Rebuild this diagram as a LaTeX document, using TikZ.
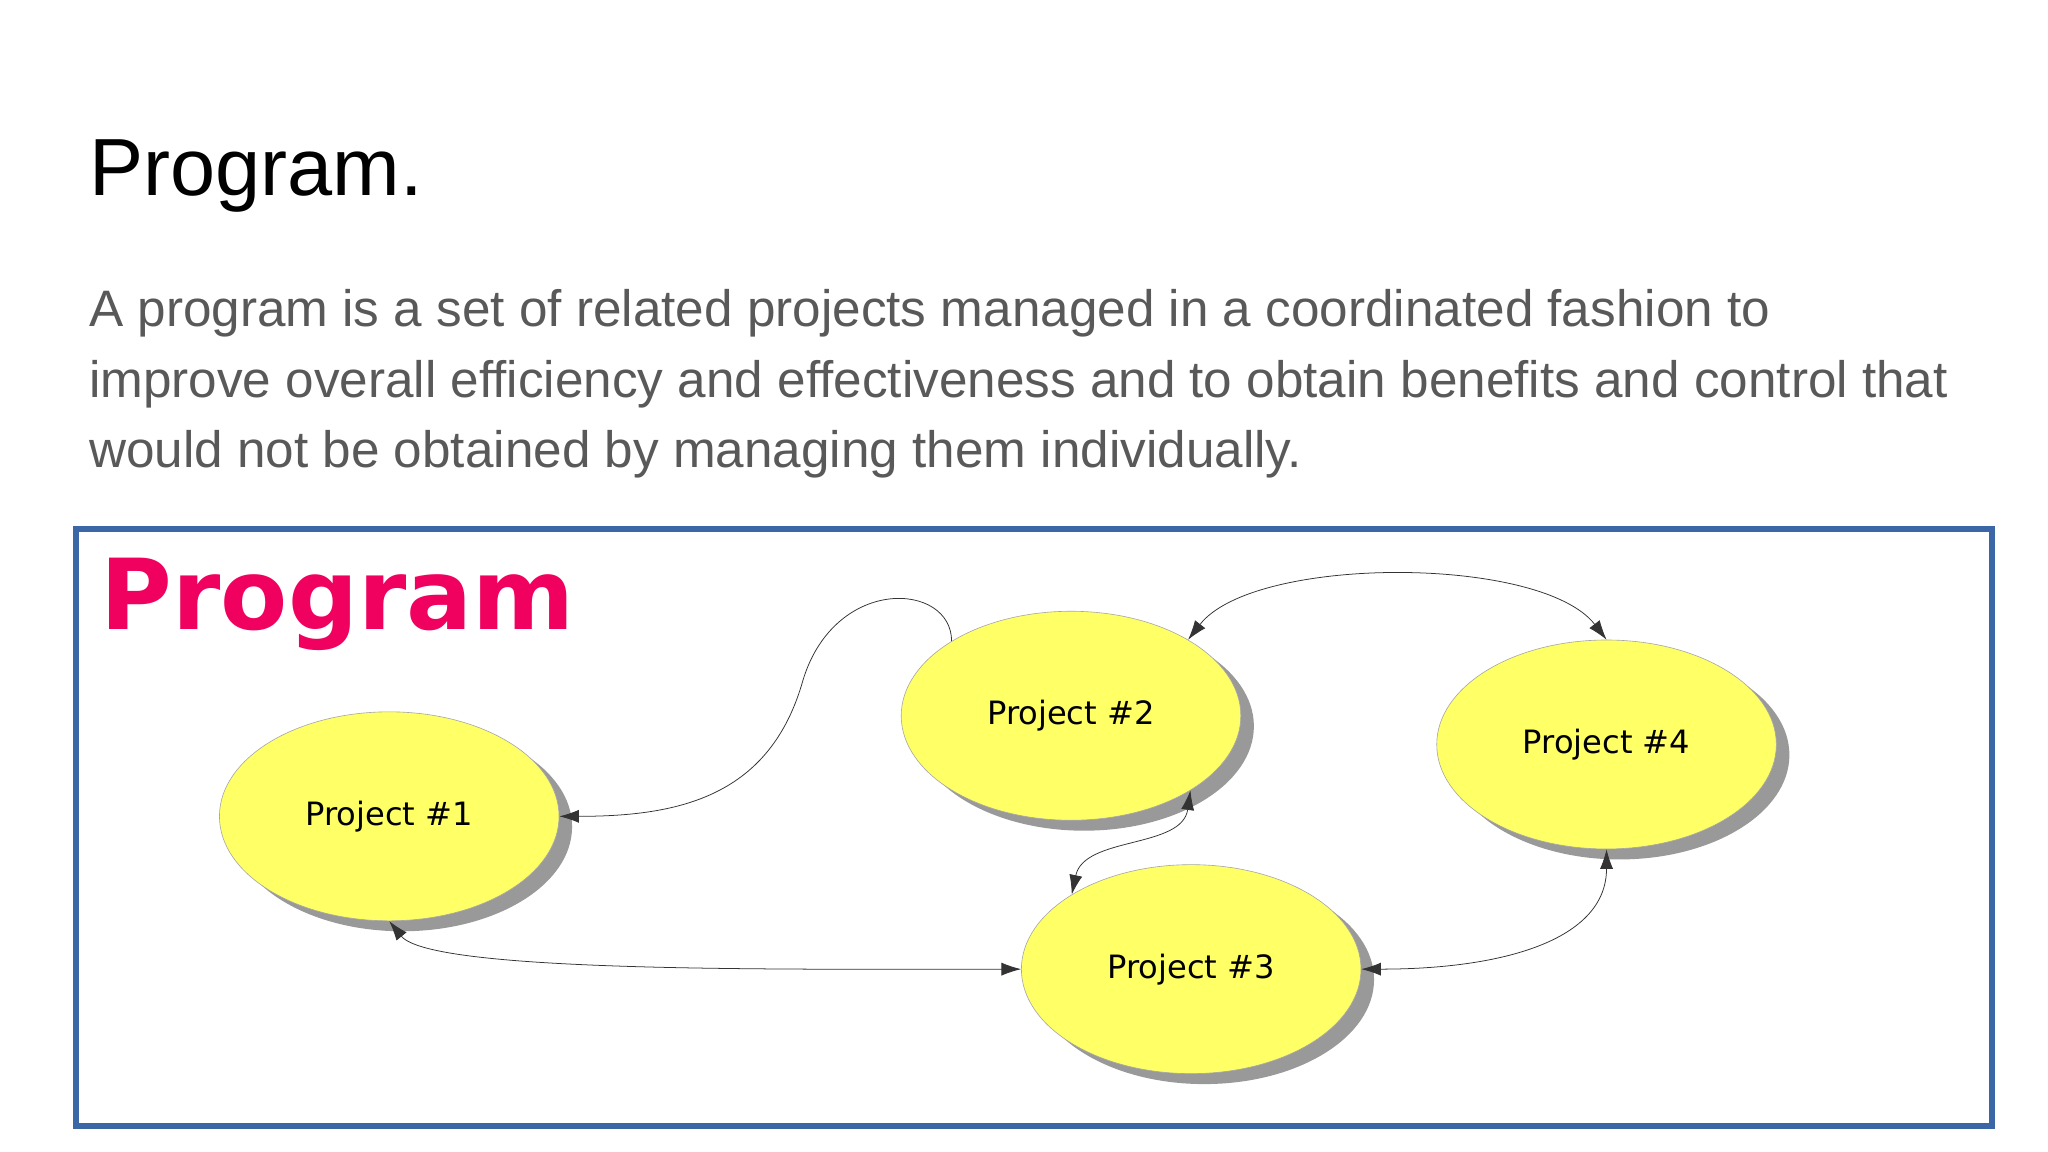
\documentclass[tikz,border=0pt]{standalone}
\usepackage{fontspec}
\setmainfont{Liberation Sans}
\newfontfamily\dvfont{DejaVu Sans}
\usetikzlibrary{shapes.geometric,shadows,arrows.meta}
\definecolor{bodygray}{HTML}{595959}
\definecolor{frameblue}{HTML}{3C67A6}
\definecolor{magen}{HTML}{F0005F}
\definecolor{projyellow}{HTML}{FFFF66}
\begin{document}
\begin{tikzpicture}[x=0.3mm,y=-0.3mm,
  proj/.style={ellipse,draw=gray!70,fill=projyellow,minimum width=78mm,minimum height=48mm,
    font=\dvfont\fontsize{21pt}{24pt}\selectfont,
    drop shadow={shadow xshift=3mm,shadow yshift=-2.4mm,opacity=1,fill=gray!80}},
  body/.style={anchor=base west,inner sep=0,text=bodygray,font=\fontsize{33.5pt}{40pt}\selectfont},
  tip/.style={Latex[length=4.5mm,width=3mm]},
  link/.style={draw=black!80,line width=0.5pt,{Latex[length=4.5mm,width=3mm]}-{Latex[length=4.5mm,width=3mm]}},
  link1/.style={draw=black!80,line width=0.5pt,-{Latex[length=4.5mm,width=3mm]}}]
\useasboundingbox (0,0) rectangle (1568,882);
\fill[white] (0,0) rectangle (1568,882);
\node[anchor=base west,inner sep=0,font=\fontsize{53pt}{60pt}\selectfont] (title) at (68,150) {Program.};
\node[body] (b1) at (68,250) {A program is a set of related projects managed in a coordinated fashion to};
\node[body] (b2) at (68,304) {improve overall efficiency and effectiveness and to obtain benefits and control that};
\node[body] (b3) at (68,358) {would not be obtained by managing them individually.};
\draw[frameblue,line width=1.3mm,fill=white] (58,405) rectangle (1525,862);
\node[anchor=base west,inner sep=0,text=magen,font=\dvfont\bfseries\fontsize{64pt}{70pt}\selectfont] (prog) at (77,482) {Program};
\node[proj] (p1) at (298,625) {Project \#1};
\node[proj] (p2) at (820,548) {Project \#2};
\node[proj] (p4) at (1230,570) {Project \#4};
\node[proj] (p3) at (912,742) {Project \#3};
\draw[link1] (p2.148) .. controls ++(0,-45) and (640,440) .. (615,520) .. controls (590,610) and (520,625) .. (p1.east);
\draw[link] (p2.33) .. controls (960,425) and (1180,425) .. (p4.north);
\draw[link] (p2.-32) .. controls (905,650) and (830,640) .. (p3.148);
\draw[link] (p1.south) .. controls (330,745) and (600,742) .. (p3.west);
\draw[link] (p3.east) .. controls (1150,742) and (1230,720) .. (p4.south);
\end{tikzpicture}
\end{document}
